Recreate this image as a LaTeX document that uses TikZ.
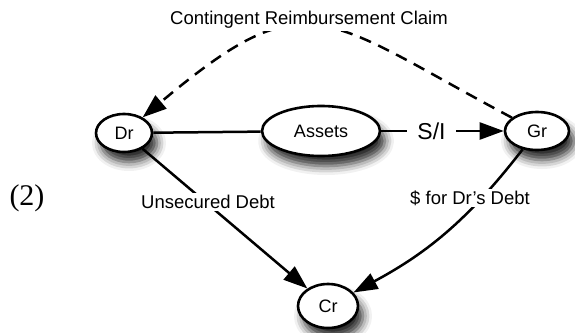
\documentclass[tikz,border=0pt]{standalone}
\usepackage{fontspec}
\setmainfont{Liberation Sans}
\newfontfamily\timesfont{Liberation Serif}
\usetikzlibrary{
	arrows.meta,
	shapes.geometric,
	shadows.blur
}
\tikzset{
	>={Triangle[length=24pt,width=17pt]},
	party/.style={ellipse, draw, line width=2.6pt, fill=white, inner sep=0pt,
		font=\fontsize{18}{20}\selectfont,
		blur shadow={shadow xshift=5pt, shadow yshift=-10pt, shadow blur radius=9pt, shadow opacity=85}},
	edge/.style={line width=2.5pt},
	claimedge/.style={line width=2.5pt, dash pattern=on 12pt off 8pt},
	edgelabel/.style={fill=white, inner sep=2pt, font=\fontsize{18.5}{21}\selectfont}
}

\begin{document}
\begin{tikzpicture}[x=1pt, y=1pt]
	\useasboundingbox (0,0) rectangle (575,-332);
	% parties
	\node[party, minimum width=56pt, minimum height=38pt] (dr) at (124,-133) {Dr};
	\node[party, minimum width=118pt, minimum height=50pt] (assets) at (321,-131) {Assets};
	\node[party, minimum width=64pt, minimum height=38pt] (gr) at (537,-131) {Gr};
	\node[party, minimum width=60pt, minimum height=44pt] (cr) at (328,-306) {Cr};
	% connections
	\draw[edge] (dr) -- (assets);
	\draw[edge,->] (assets) -- node[pos=0.41, edgelabel, inner xsep=10pt, font=\fontsize{23}{26}\selectfont] (si) {S/I} (gr);
	\draw[edge,->] (dr) -- (cr);
	\draw[edge,->] (gr) to[bend left=12] (cr);
	\draw[claimedge,->] (gr) to[out=152, in=40, looseness=1.5] (dr);
	% labels
	\node[edgelabel] (claim) at (309,-20) {Contingent Reimbursement Claim};
	\node[edgelabel] (unsec) at (208,-202) {Unsecured Debt};
	\node[edgelabel] (paid) at (470,-198) {\$ for Dr's Debt};
	\node[font=\timesfont\fontsize{30}{32}\selectfont] (num) at (27,-198) {(2)};
\end{tikzpicture}
\end{document}
